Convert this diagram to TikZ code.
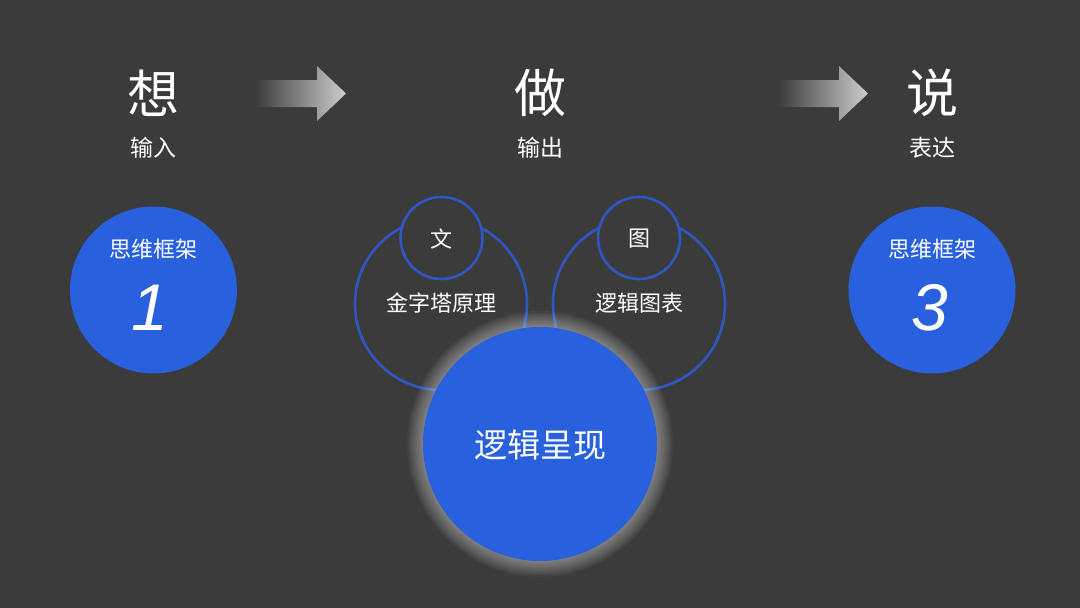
\documentclass[tikz,border=0pt]{standalone}
\usepackage{fontspec}
\setmainfont{Noto Sans CJK SC}
\newfontfamily\numfont{Liberation Sans}
\usetikzlibrary{shapes.geometric}
\definecolor{bg}{RGB}{59,59,59}
\definecolor{bluefill}{RGB}{41,96,221}
\definecolor{blueline}{RGB}{46,86,196}
\definecolor{arrowlight}{RGB}{205,205,205}
\begin{document}
\begin{tikzpicture}[x=1pt,y=-1pt,
  titletext/.style={text=white,font=\fontsize{52}{56}\selectfont,inner sep=0pt},
  subtext/.style={text=white,font=\fontsize{23}{26}\selectfont,inner sep=0pt},
  bluedisc/.style={circle,fill=bluefill,draw=none,minimum size=167pt,inner sep=0pt},
  ringbig/.style={circle,draw=blueline,line width=2.6pt,minimum size=172pt,inner sep=0pt},
  ringsmall/.style={circle,draw=blueline,line width=2.6pt,fill=bg,minimum size=82pt,inner sep=0pt},
  labeltext/.style={text=white,font=\fontsize{22}{26}\selectfont,inner sep=0pt},
  numtext/.style={text=white,font=\numfont\itshape\fontsize{66}{70}\selectfont,inner sep=0pt}
]
\useasboundingbox (0,0) rectangle (1080,608);
\fill[bg] (0,0) rectangle (1080,608);

% titles
\node[titletext] (t1) at (153,93) {想};
\node[subtext] (s1) at (153,148) {输入};
\node[titletext] (t2) at (540,93) {做};
\node[subtext] (s2) at (540,148) {输出};
\node[titletext] (t3) at (932,93) {说};
\node[subtext] (s3) at (932,148) {表达};

% arrows
\shade[left color=bg,right color=arrowlight]
  (255,80) -- (317,80) -- (317,66) -- (346,93.5) -- (317,121) -- (317,107) -- (255,107) -- cycle;
\shade[left color=bg,right color=arrowlight]
  (778,80) -- (839,80) -- (839,66) -- (868,93.5) -- (839,121) -- (839,107) -- (778,107) -- cycle;

% side discs
\node[bluedisc] (c1) at (153.5,290) {};
\node[labeltext] (c1a) at (153.5,249) {思维框架};
\node[numtext] (c1b) at (150,308) {1};
\node[bluedisc] (c3) at (932,290) {};
\node[labeltext] (c3a) at (932,249) {思维框架};
\node[numtext] (c3b) at (930,308) {3};

% middle rings
\node[ringbig] (bl) at (441,304) {};
\node[ringbig] (br) at (639,304) {};
\node[ringsmall] (sl) at (441.5,238) {};
\node[ringsmall] (sr) at (639,238) {};
\node[labeltext] (wen) at (441.5,239) {文};
\node[labeltext] (tu) at (639,239) {图};
\node[labeltext] (jz) at (441,303) {金字塔原理};
\node[labeltext] (lj) at (639,303) {逻辑图表};

% glow
\foreach \r in {133,131.5,...,118} {
  \fill[white,opacity=0.04] (540,444) circle (\r);
}
\node[circle,fill=bluefill,minimum size=234pt,inner sep=0pt] (main) at (540,444) {};
\node[text=white,font=\fontsize{33}{36}\selectfont,inner sep=0pt] (mt) at (540,445) {逻辑呈现};
\end{tikzpicture}
\end{document}
